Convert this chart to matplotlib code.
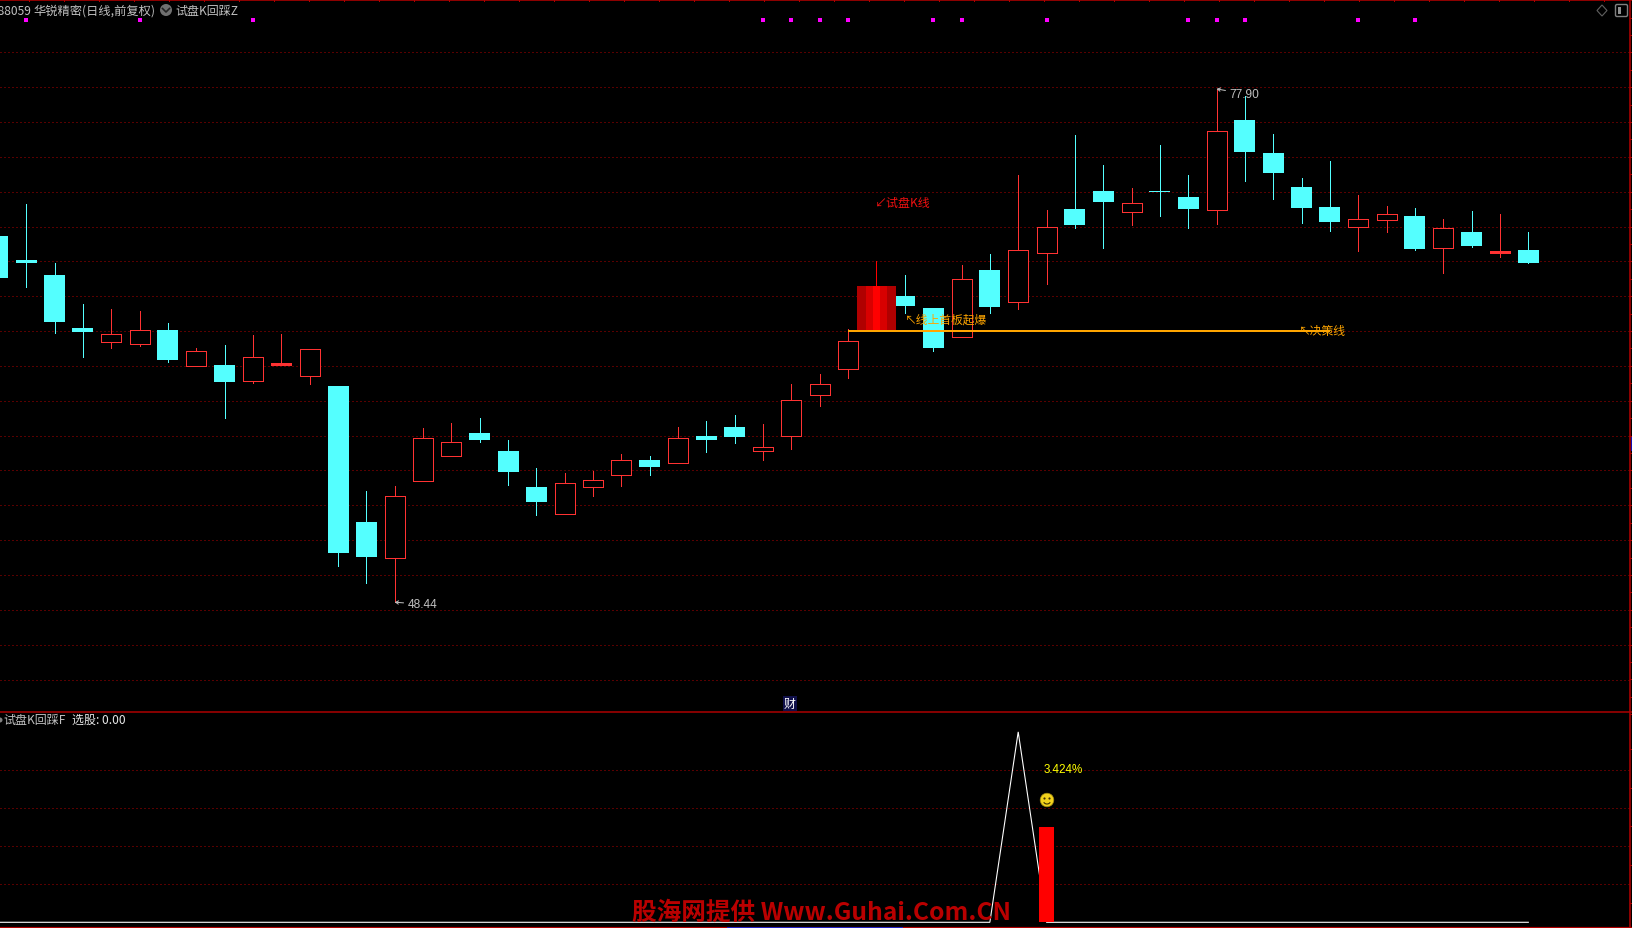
import matplotlib
matplotlib.use("Agg")
import matplotlib.pyplot as plt
from matplotlib.patches import Circle, Arc, Polygon, FancyBboxPatch, Rectangle

plt.rcParams["font.family"] = ["Noto Sans CJK SC", "DejaVu Sans"]

# daily candles, index 0 is the one cut off at the left edge
opens = [69.45, 68.07, 67.21, 64.17, 63.38, 63.27, 64.05, 62.00, 62.04, 61.14, 62.04,
         61.43, 60.84, 53.03, 50.98, 55.40, 56.84, 58.14, 57.11, 55.04, 53.51, 55.06,
         55.75, 56.59, 56.43, 57.97, 58.48, 57.12, 57.98, 60.34, 61.83, 64.00, 66.01,
         65.32, 63.67, 67.50, 65.68, 68.49, 71.00, 72.04, 70.85, 72.05, 71.69, 70.96,
         76.11, 74.22, 72.27, 71.12, 69.99, 70.39, 70.60, 68.78, 69.68, 68.48, 68.65]
highs = [69.45, 71.29, 67.90, 65.55, 65.26, 65.14, 64.46, 63.02, 63.19, 63.77, 63.82,
         62.95, 60.84, 54.81, 55.10, 58.43, 58.71, 59.00, 57.74, 56.13, 55.84, 55.96,
         56.93, 56.82, 58.48, 58.83, 59.17, 58.66, 60.95, 61.53, 64.11, 68.02, 67.21,
         65.32, 67.79, 68.42, 72.95, 70.94, 75.25, 73.53, 72.21, 74.68, 72.95, 77.90,
         77.49, 75.31, 72.78, 73.76, 71.81, 71.17, 71.06, 70.43, 70.89, 70.71, 69.68]
lows = [67.04, 66.52, 63.88, 62.50, 63.02, 63.14, 62.22, 62.00, 59.00, 61.01, 62.04,
        60.95, 50.50, 49.53, 48.44, 55.40, 56.84, 57.62, 55.15, 53.43, 53.51, 54.52,
        55.10, 55.73, 56.43, 57.05, 57.57, 56.59, 57.22, 59.69, 61.30, 64.00, 65.03,
        62.85, 63.67, 65.03, 65.26, 66.70, 69.91, 68.76, 70.08, 70.60, 69.91, 70.14,
        72.61, 71.58, 70.20, 69.74, 68.59, 69.68, 68.65, 67.33, 68.82, 68.25, 67.90]
closes = [67.04, 67.90, 64.51, 63.94, 63.81, 64.04, 62.33, 62.83, 61.07, 62.54, 62.16,
          62.95, 51.25, 51.02, 54.56, 57.84, 57.61, 57.74, 55.90, 54.18, 55.31, 55.48,
          56.63, 56.19, 57.89, 57.74, 57.91, 57.32, 60.02, 60.94, 63.46, 66.58, 65.43,
          63.02, 66.97, 65.37, 68.63, 69.97, 70.08, 71.40, 71.33, 71.99, 71.00, 75.46,
          74.27, 73.07, 71.06, 70.26, 70.41, 70.70, 68.70, 69.89, 68.88, 68.59, 67.90]

limit_up_idx = 31
marker_idx = [1, 5, 9, 27, 28, 29, 30, 33, 34, 37, 42, 43, 44, 48, 50]
price_grid = [80, 78, 76, 74, 72, 70, 68, 66, 64, 62, 60, 58, 56, 54, 52, 50, 48, 46, 44]
decision_price = 64.01
decision_span = [30, 47]

# lower pane
sub_line = [0, 0, 0, 0, 0, 0, 0, 0, 0, 0, 0, 0, 0, 0, 0, 0, 0, 0, 0, 0, 0, 0, 0, 0, 0, 0,
            0, 0, 0, 0, 0, 0, 0, 0, 0, 0, 5, 0, 0, 0, 0, 0, 0, 0, 0, 0, 0, 0, 0, 0, 0, 0,
            0, 0, 0]
sub_bar_idx = 37
sub_bar_value = 2.5
sub_grid = [1, 2, 3, 4]

CYAN = "#54ffff"
RED = "#ff3232"
DARKRED = "#b00000"
ORANGE = "#ffa500"
GRAY = "#c0c0c0"
PX = 0.72  # one pixel in points at dpi 100

W, H = 1633, 929
STEP = 28.34
X0 = 2.04
xlim = (X0 / STEP, (W + X0) / STEP)
SPLIT = 712.3

fig = plt.figure(figsize=(W / 100, H / 100), dpi=100, facecolor="black")
ax = fig.add_axes([0, 1 - SPLIT / H, 1, SPLIT / H], facecolor="black")
sub = fig.add_axes([0, 0, 1, 1 - SPLIT / H], facecolor="black")
deco = fig.add_axes([0, 0, 1, 1], facecolor="none", zorder=5)

for a in (ax, sub, deco):
    a.set_axis_off()
ax.set_xlim(xlim)
ax.set_ylim(42.18, 83.06)
sub.set_xlim(xlim)
sub.set_ylim(-0.15, 5.54)
deco.set_xlim(0, W)
deco.set_ylim(H, 0)

DOTS = (0, (1, 3))
ax.hlines(price_grid, xlim[0], xlim[1], colors=DARKRED, lw=PX, linestyles=[DOTS], capstyle="butt", snap=True, zorder=1)
sub.hlines(sub_grid, xlim[0], xlim[1], colors=DARKRED, lw=PX, linestyles=[DOTS], capstyle="butt", snap=True, zorder=1)

# candles
BODY = 21 / STEP
for i, (o, h, l, c) in enumerate(zip(opens, highs, lows, closes)):
    up = c >= o
    col = RED if up else CYAN
    if i == limit_up_idx:
        ax.vlines(i, l, h, colors="#ff0000", lw=0.9 * PX, antialiased=False, zorder=2)
        continue
    ax.vlines(i, l, h, colors=col, lw=0.9 * PX, antialiased=False, zorder=2)
    if up:
        # very small red bodies come out solid
        face = col if c - o < 0.15 else "black"
        ax.bar(i, c - o, bottom=o, width=BODY - 1 / STEP, facecolor=face, edgecolor=col,
               linewidth=0.9 * PX, antialiased=False, zorder=3)
    else:
        ax.bar(i, o - c, bottom=c, width=BODY, color=col, linewidth=0, antialiased=False, zorder=3)

# limit up candle is drawn wider, in vertical bands
bands_px = [9, 7, 7, 7, 9]
bands_col = ["#b00000", "#d80000", "#ff0000", "#d80000", "#b00000"]
left = limit_up_idx - sum(bands_px) / 2 / STEP
for w, col in zip(bands_px, bands_col):
    ax.bar(left, closes[limit_up_idx] - opens[limit_up_idx], bottom=opens[limit_up_idx], width=w / STEP,
           align="edge", color=col, linewidth=0, antialiased=False, zorder=3)
    left += w / STEP

ax.hlines(decision_price, decision_span[0], decision_span[1], colors=ORANGE, lw=2 * PX, zorder=4)

# signal markers along the top
deco.scatter([-X0 + STEP * i for i in marker_idx], [20.5] * len(marker_idx), marker="s", s=7, color="#ff00ff", linewidths=0)

FS = 8.64
ax.text(30.95, 71.40, "↙试盘K线", color="#f01010", fontsize=FS, va="center", ha="left", zorder=6)
ax.text(32.0, 64.69, "↖线上首板起爆", color=ORANGE, fontsize=8.5, va="center", ha="left", zorder=6)
ax.text(45.92, 64.03, "↖决策线", color=ORANGE, fontsize=8.5, va="center", ha="left", zorder=6)


def price_note(idx, price, text, dx, dy):
    ax.annotate(text, xy=(idx, price), xytext=(dx * PX, dy * PX), textcoords="offset points",
                color=GRAY, fontsize=8.6, family="Liberation Sans", va="center", ha="left", zorder=6,
                arrowprops=dict(arrowstyle="->,head_width=0.15,head_length=0.25", color=GRAY, lw=PX,
                                shrinkA=1, shrinkB=0, mutation_scale=8))


price_note(14, lows[14], "48.44", 13, -2)
price_note(43, highs[43], "77.90", 13, -5)

# lower pane
sub.plot(range(len(sub_line)), sub_line, color="white", lw=1.1 * PX, zorder=3, solid_joinstyle="miter")
sub.bar(sub_bar_idx, sub_bar_value, width=15 / STEP, color="#ff0000", linewidth=0, antialiased=False, zorder=4)
sub.text(sub_bar_idx - 0.1, 4.03, "3.424%", color="#ffff00", fontsize=8.4, family="Liberation Sans",
         va="center", ha="left", zorder=5)

# smiley
deco.add_patch(Circle((1047, 801), 6.8, facecolor="#f2d21c", edgecolor="#a08810", lw=0.5))
deco.scatter([1044.5, 1049.5], [799, 799], s=2.5, color="#403000", linewidths=0)
deco.add_patch(Arc((1047, 802), 7, 6, theta1=20, theta2=160, color="#403000", lw=0.8))

# window chrome
deco.plot([0, W], [1, 1], color=DARKRED, lw=1.6 * PX)
deco.plot([0, W], [712.8, 712.8], color=DARKRED, lw=1.5 * PX)
deco.plot([0, W], [927.5, 927.5], color=DARKRED, lw=1.2 * PX)
deco.plot([1630.5, 1630.5], [0, H], color=DARKRED, lw=1.6 * PX)
deco.plot([727, 902], [927.5, 927.5], color="#2020c0", lw=PX)
for x in range(29, W, 35):
    deco.plot([x, x], [0, 2], color=DARKRED, lw=PX)
for k in range(0, 41):
    y = 18.5 + 17.42 * k
    deco.plot([1630, W], [y, y], color=DARKRED, lw=PX)
for k in range(0, 6):
    y = 750 + 38.6 * k
    deco.plot([1630, W], [y, y], color=DARKRED, lw=PX)
deco.add_patch(Rectangle((1631, 437), 2, 15, facecolor="#1010b0", edgecolor="none"))
deco.add_patch(Rectangle((1632, 441), 1, 6, facecolor="white", edgecolor="none"))

# title row
deco.text(31, 11, "688059", color=GRAY, fontsize=FS, va="center", ha="right")
deco.text(33, 11, "华锐精密(日线,前复权)", color=GRAY, fontsize=8.8, va="center", ha="left")
deco.add_patch(Circle((166, 11), 6, facecolor="#707070", edgecolor="none"))
deco.plot([162.5, 166, 169.5], [9.5, 13, 9.5], color="#222222", lw=1.2)
deco.text(175, 11, "试盘K回踩Z", color=GRAY, fontsize=FS, va="center", ha="left")
deco.add_patch(Polygon([(1602, 6), (1607, 11.5), (1602, 17), (1597, 11.5)], closed=True, facecolor="none", edgecolor="#606060", lw=0.8))
deco.add_patch(FancyBboxPatch((1617, 7), 9, 9, boxstyle="round,pad=1.5", facecolor="black", edgecolor="#808080", lw=1))
deco.add_patch(Rectangle((1618, 8), 3.5, 7, facecolor="#909090", edgecolor="none"))

deco.add_patch(Rectangle((783, 697), 14, 15, facecolor="#10104a", edgecolor="none"))
deco.text(790, 704.5, "财", color="white", fontsize=FS, va="center", ha="center")

deco.add_patch(Circle((0, 721), 2.5, facecolor="#808080", edgecolor="none"))
deco.text(3.5, 720.5, "试盘K回踩F", color=GRAY, fontsize=FS, va="center", ha="left")
deco.text(72, 720.5, "选股: 0.00", color="#e8e8e8", fontsize=FS, va="center", ha="left")

# site watermark
deco.text(632, 913, "股海网提供 Www.Guhai.Com.CN", color="#c00000", fontsize=17.75, weight="bold",
          va="center", ha="left", alpha=0.97)

fig.savefig("out.png", dpi=100, facecolor="black")
plt.close()
